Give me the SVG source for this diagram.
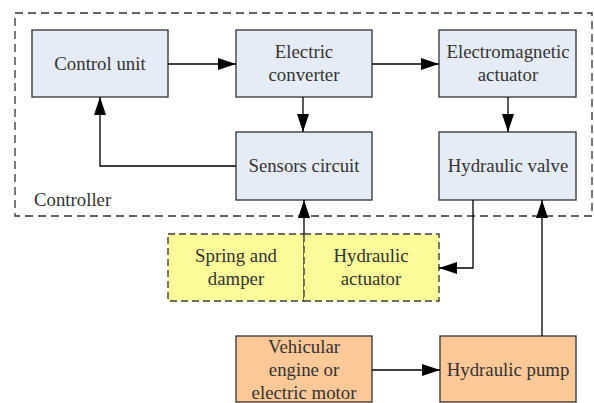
<svg xmlns="http://www.w3.org/2000/svg" width="594" height="403" viewBox="0 0 594 403">
<defs>
<marker id="ah" markerWidth="18" markerHeight="12" refX="18" refY="6" orient="auto" markerUnits="userSpaceOnUse">
<path d="M0,0 L18,6 L0,12 Z" fill="#000"/>
</marker>
<style>
.box{stroke:#3f3f3f;stroke-width:1.4}
.blue{fill:#e6ecf6}
.yel{fill:#fcfc98;stroke-dasharray:7 4}
.org{fill:#fcc898}
.t{font-size:18.8px;fill:#333;text-anchor:middle}
.c{fill:none;stroke:#000;stroke-width:1.3}
</style>
</defs>
<rect x="15" y="13" width="577" height="203" fill="none" stroke="#333" stroke-width="1.3" stroke-dasharray="8 5"/>
<g font-family="'Liberation Serif', 'DejaVu Serif', 'Times New Roman', serif">
<text class="t" x="34" y="206" text-anchor="start" style="text-anchor:start">Controller</text>
<g id="control-unit"><rect class="box blue" x="32" y="30" width="136" height="67"/><text class="t" x="100" y="70">Control unit</text></g>
<g id="electric-converter"><rect class="box blue" x="236" y="30" width="136" height="67"/><text class="t" x="304" y="58">Electric</text><text class="t" x="304" y="81">converter</text></g>
<g id="electromagnetic-actuator"><rect class="box blue" x="439" y="30" width="137" height="67"/><text class="t" x="508" y="58">Electromagnetic</text><text class="t" x="508" y="81">actuator</text></g>
<g id="sensors-circuit"><rect class="box blue" x="236" y="132" width="136" height="68"/><text class="t" x="304" y="172">Sensors circuit</text></g>
<g id="hydraulic-valve"><rect class="box blue" x="439" y="132" width="137" height="68"/><text class="t" x="508" y="172">Hydraulic valve</text></g>
<g id="spring-damper"><rect class="box yel" x="168" y="234" width="136" height="67"/><text class="t" x="236" y="262">Spring and</text><text class="t" x="236" y="285">damper</text></g>
<g id="hydraulic-actuator"><rect class="box yel" x="304" y="234" width="135" height="67"/><text class="t" x="371" y="262">Hydraulic</text><text class="t" x="371" y="285">actuator</text></g>
<g id="engine"><rect class="box org" x="236" y="336" width="136" height="66"/><text class="t" x="304" y="353">Vehicular</text><text class="t" x="304" y="376">engine or</text><text class="t" x="304" y="399">electric motor</text></g>
<g id="hydraulic-pump"><rect class="box org" x="440" y="336" width="136" height="66"/><text class="t" x="508" y="376">Hydraulic pump</text></g>
</g>
<g id="connectors">
<path class="c" d="M168,64 H236" marker-end="url(#ah)"/>
<path class="c" d="M372,64 H439" marker-end="url(#ah)"/>
<path class="c" d="M303,97 V132" marker-end="url(#ah)"/>
<path class="c" d="M508,97 V132" marker-end="url(#ah)"/>
<path class="c" d="M236,166 H100 V97" marker-end="url(#ah)"/>
<path class="c" d="M304,234 V200" marker-end="url(#ah)"/>
<path class="c" d="M473,200 V268 H439" marker-end="url(#ah)"/>
<path class="c" d="M542,336 V200" marker-end="url(#ah)"/>
<path class="c" d="M372,370 H440" marker-end="url(#ah)"/>
</g>
</svg>
